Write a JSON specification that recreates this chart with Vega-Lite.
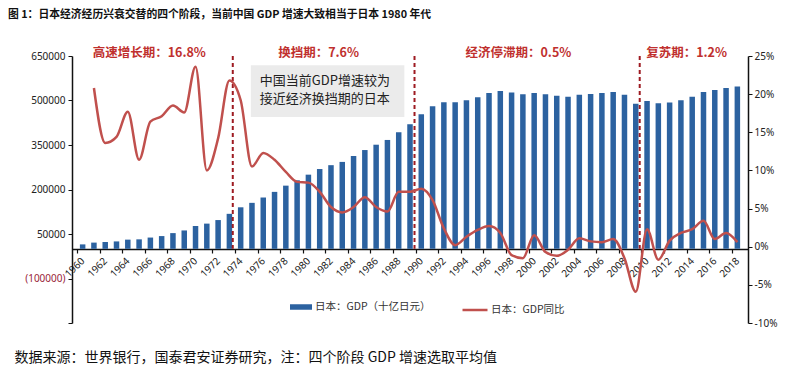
{
  "$schema": "https://vega.github.io/schema/vega-lite/v6.json",
  "width": 676,
  "height": 267,
  "autosize": {"type": "none"},
  "padding": {"left": 72, "top": 56, "right": 52, "bottom": 50},
  "background": "white",
  "config": {
    "view": {"stroke": null},
    "font": "Noto Sans CJK SC",
    "axis": {"grid": false, "labelFont": "Noto Sans", "labelFontSize": 10, "labelColor": "#222", "labelOverlap": false, "labelFlush": false}
  },
  "title": {
    "text": "图 1：日本经济经历兴衰交替的四个阶段，当前中国 GDP 增速大致相当于日本 1980 年代",
    "anchor": "start",
    "frame": "group",
    "dx": -64,
    "offset": 27,
    "font": "Noto Sans CJK SC",
    "fontSize": 10.8,
    "fontWeight": "bold",
    "color": "#111"
  },
  "datasets": {
    "main": [
      {"year": 1960, "gdp": 15000, "growth": null},
      {"year": 1961, "gdp": 21000, "growth": 20.8},
      {"year": 1962, "gdp": 23000, "growth": 13.6},
      {"year": 1963, "gdp": 25000, "growth": 14.4},
      {"year": 1964, "gdp": 31000, "growth": 17.7},
      {"year": 1965, "gdp": 32000, "growth": 11.4},
      {"year": 1966, "gdp": 38000, "growth": 16.4},
      {"year": 1967, "gdp": 43000, "growth": 17.1},
      {"year": 1968, "gdp": 53000, "growth": 18.5},
      {"year": 1969, "gdp": 62000, "growth": 17.6},
      {"year": 1970, "gdp": 77000, "growth": 23.6},
      {"year": 1971, "gdp": 85000, "growth": 10.0},
      {"year": 1972, "gdp": 97000, "growth": 14.2},
      {"year": 1973, "gdp": 118000, "growth": 21.8},
      {"year": 1974, "gdp": 140000, "growth": 19.2},
      {"year": 1975, "gdp": 155000, "growth": 10.5},
      {"year": 1976, "gdp": 173000, "growth": 12.3},
      {"year": 1977, "gdp": 192000, "growth": 11.4},
      {"year": 1978, "gdp": 213000, "growth": 9.8},
      {"year": 1979, "gdp": 231000, "growth": 8.5},
      {"year": 1980, "gdp": 250000, "growth": 8.4},
      {"year": 1981, "gdp": 269000, "growth": 7.2},
      {"year": 1982, "gdp": 282000, "growth": 5.2},
      {"year": 1983, "gdp": 293000, "growth": 4.5},
      {"year": 1984, "gdp": 313000, "growth": 5.2},
      {"year": 1985, "gdp": 333000, "growth": 6.5},
      {"year": 1986, "gdp": 351000, "growth": 5.2},
      {"year": 1987, "gdp": 367000, "growth": 4.6},
      {"year": 1988, "gdp": 393000, "growth": 7.2},
      {"year": 1989, "gdp": 420000, "growth": 7.2},
      {"year": 1990, "gdp": 454000, "growth": 7.6},
      {"year": 1991, "gdp": 481000, "growth": 6.1},
      {"year": 1992, "gdp": 494000, "growth": 2.4},
      {"year": 1993, "gdp": 494000, "growth": 0.2},
      {"year": 1994, "gdp": 501000, "growth": 1.3},
      {"year": 1995, "gdp": 511000, "growth": 2.2},
      {"year": 1996, "gdp": 525000, "growth": 2.7},
      {"year": 1997, "gdp": 532000, "growth": 1.8},
      {"year": 1998, "gdp": 527000, "growth": -1.1},
      {"year": 1999, "gdp": 521000, "growth": -1.5},
      {"year": 2000, "gdp": 525000, "growth": 1.5},
      {"year": 2001, "gdp": 521000, "growth": -0.7},
      {"year": 2002, "gdp": 516000, "growth": -1.2},
      {"year": 2003, "gdp": 513000, "growth": -0.4},
      {"year": 2004, "gdp": 519000, "growth": 1.1},
      {"year": 2005, "gdp": 522000, "growth": 0.7},
      {"year": 2006, "gdp": 525000, "growth": 0.6},
      {"year": 2007, "gdp": 529000, "growth": 1.0},
      {"year": 2008, "gdp": 519000, "growth": -1.5},
      {"year": 2009, "gdp": 489000, "growth": -5.9},
      {"year": 2010, "gdp": 498000, "growth": 2.3},
      {"year": 2011, "gdp": 491000, "growth": -1.7},
      {"year": 2012, "gdp": 493000, "growth": 0.8},
      {"year": 2013, "gdp": 501000, "growth": 1.8},
      {"year": 2014, "gdp": 513000, "growth": 2.3},
      {"year": 2015, "gdp": 529000, "growth": 3.4},
      {"year": 2016, "gdp": 535000, "growth": 1.0},
      {"year": 2017, "gdp": 542000, "growth": 1.8},
      {"year": 2018, "gdp": 547000, "growth": 0.6}
    ],
    "phases": [
      {"year": 1973.3},
      {"year": 1989.4},
      {"year": 2009.35}
    ],
    "notes": [
      {"year": 1965.9, "label": "高速增长期：16.8%"},
      {"year": 1980.9, "label": "换挡期：7.6%"},
      {"year": 1998.6, "label": "经济停滞期：0.5%"},
      {"year": 2013.5, "label": "复苏期：1.2%"}
    ],
    "callout": [
      {"line1": "中国当前GDP增速较为", "line2": "接近经济换挡期的日本"}
    ]
  },
  "layer": [
    {
      "layer": [
        {
          "data": {"name": "main"},
          "mark": {"type": "bar", "size": 5.5},
          "encoding": {
            "x": {
              "field": "year",
              "type": "quantitative",
              "scale": {"domain": [1959.5, 2018.5], "nice": false, "zero": false},
              "axis": {
                "title": null,
                "orient": "bottom",
                "offset": -74,
                "tickCount": 100,
                "values": [1959.5, 1961.5, 1963.5, 1965.5, 1967.5, 1969.5, 1971.5, 1973.5, 1975.5, 1977.5, 1979.5, 1981.5, 1983.5, 1985.5, 1987.5, 1989.5, 1991.5, 1993.5, 1995.5, 1997.5, 1999.5, 2001.5, 2003.5, 2005.5, 2007.5, 2009.5, 2011.5, 2013.5, 2015.5, 2017.5],
                "labels": false,
                "domainColor": "#111",
                "domainWidth": 1.5,
                "tickColor": "#111",
                "tickSize": 4,
                "tickWidth": 1.2
              }
            },
            "y": {
              "field": "gdp",
              "type": "quantitative",
              "scale": {"domain": [-250000, 650000], "nice": false},
              "axis": {
                "title": null,
                "orient": "left",
                "tickCount": 100,
                "values": [-250000, -100000, 50000, 200000, 350000, 500000, 650000],
                "labelExpr": "datum.value < -200000 ? '' : (datum.value < 0 ? '(' + format(-datum.value, 'd') + ')' : format(datum.value, 'd'))",
                "labelColor": {"condition": {"test": "datum.value < 0", "value": "#99253A"}, "value": "#222"},
                "domainColor": "#111",
                "domainWidth": 1.5,
                "tickColor": "#111",
                "tickSize": 4,
                "labelPadding": 3
              }
            },
            "fill": {
              "datum": "日本：GDP（十亿日元）",
              "scale": {"range": ["#2C62A0"]},
              "legend": {
                "title": null,
                "orient": "none",
                "legendX": 218,
                "legendY": 240,
                "symbolType": "M-1,-0.25H1V0.25H-1Z",
                "symbolSize": 484,
                "symbolStrokeWidth": 0,
                "labelFont": "Noto Sans CJK SC",
                "labelFontSize": 10.5,
                "labelColor": "#333",
                "labelOffset": 3,
                "labelLimit": 300
              }
            }
          }
        },
        {
          "data": {"name": "phases"},
          "mark": {"type": "rule", "strokeDash": [4, 3], "strokeWidth": 2, "color": "#9E1B22"},
          "encoding": {
            "x": {"field": "year", "type": "quantitative"},
            "y": {"datum": 650000, "type": "quantitative"},
            "y2": {"datum": 0}
          }
        }
      ]
    },
    {
      "layer": [
        {
          "data": {"name": "main"},
          "mark": {"type": "line", "interpolate": "monotone", "strokeWidth": 2.5},
          "encoding": {
            "x": {
              "field": "year",
              "type": "quantitative",
              "axis": {
                "orient": "bottom",
                "offset": -74,
                "tickCount": 100,
                "values": [1960, 1962, 1964, 1966, 1968, 1970, 1972, 1974, 1976, 1978, 1980, 1982, 1984, 1986, 1988, 1990, 1992, 1994, 1996, 1998, 2000, 2002, 2004, 2006, 2008, 2010, 2012, 2014, 2016, 2018],
                "format": "d",
                "domain": false,
                "ticks": false,
                "labelAngle": -45,
                "labelAlign": "right",
                "labelBaseline": "middle",
                "labelPadding": 10,
                "title": "数据来源：世界银行，国泰君安证券研究，注：四个阶段 GDP 增速选取平均值",
                "titleX": -58,
                "titleY": 108,
                "titleAlign": "left",
                "titleAnchor": "start",
                "titleBaseline": "middle",
                "titleFont": "Noto Sans CJK SC",
                "titleFontSize": 14,
                "titleFontWeight": "normal",
                "titleColor": "#111"
              }
            },
            "y": {
              "field": "growth",
              "type": "quantitative",
              "scale": {"domain": [-10, 25], "nice": false, "zero": false},
              "axis": {
                "title": null,
                "orient": "right",
                "tickCount": 100,
                "values": [-10, -5, 0, 5, 10, 15, 20, 25],
                "labelExpr": "datum.value + '%'",
                "domainColor": "#111",
                "domainWidth": 1.5,
                "tickColor": "#111",
                "tickSize": 4,
                "labelPadding": 2
              }
            },
            "stroke": {
              "datum": "日本：GDP同比",
              "scale": {"range": ["#C0504D"]},
              "legend": {
                "title": null,
                "orient": "none",
                "legendX": 389,
                "legendY": 240,
                "symbolType": "stroke",
                "symbolSize": 625,
                "symbolStrokeWidth": 2.5,
                "labelFont": "Noto Sans CJK SC",
                "labelFontSize": 10.5,
                "labelColor": "#333",
                "labelOffset": 2,
                "labelLimit": 300
              }
            }
          }
        },
        {
          "data": {"name": "callout"},
          "mark": {"type": "rect", "color": "#EBEBEB"},
          "encoding": {
            "x": {"datum": 1974.9, "type": "quantitative"},
            "x2": {"datum": 1988.5},
            "y": {"datum": 23.8, "type": "quantitative"},
            "y2": {"datum": 17.0}
          }
        },
        {
          "data": {"name": "callout"},
          "mark": {"type": "text", "align": "left", "baseline": "middle", "fontSize": 13, "color": "#222", "font": "Noto Sans CJK SC"},
          "encoding": {
            "x": {"datum": 1975.7, "type": "quantitative"},
            "y": {"datum": 21.7, "type": "quantitative"},
            "text": {"field": "line1"}
          }
        },
        {
          "data": {"name": "callout"},
          "mark": {"type": "text", "align": "left", "baseline": "middle", "fontSize": 13, "color": "#222", "font": "Noto Sans CJK SC"},
          "encoding": {
            "x": {"datum": 1975.7, "type": "quantitative"},
            "y": {"datum": 19.4, "type": "quantitative"},
            "text": {"field": "line2"}
          }
        },
        {
          "data": {"name": "notes"},
          "mark": {"type": "text", "align": "center", "baseline": "middle", "fontSize": 12.5, "fontWeight": "bold", "color": "#C0302E", "font": "Noto Sans CJK SC"},
          "encoding": {
            "x": {"field": "year", "type": "quantitative"},
            "y": {"datum": 25.4, "type": "quantitative"},
            "text": {"field": "label"}
          }
        }
      ]
    }
  ],
  "resolve": {"scale": {"y": "independent"}, "axis": {"x": "independent"}}
}
